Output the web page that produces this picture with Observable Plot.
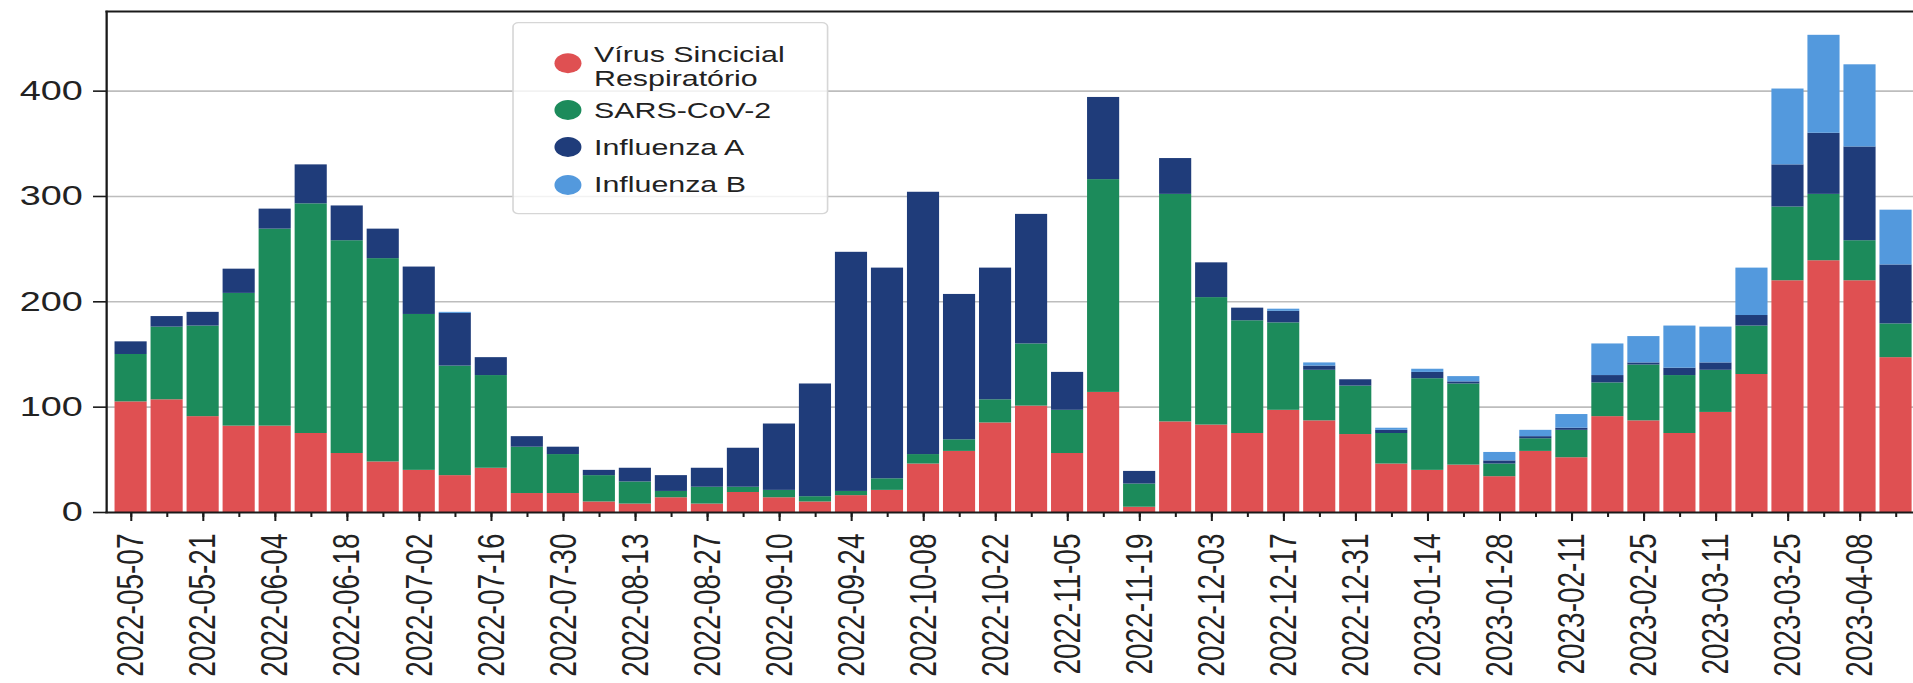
<!DOCTYPE html>
<html>
<head>
<meta charset="utf-8">
<script src="https://cdn.jsdelivr.net/npm/d3@7"></script>
<script src="https://cdn.jsdelivr.net/npm/@observablehq/plot@0.6"></script>
<style>
  html, body { margin: 0; padding: 0; background: #fff; overflow: hidden; }
  #wrap { position: absolute; left: 0; top: 0; width: 1417px; height: 683px; transform-origin: 0 0; }
  #wrap svg { position: absolute; left: 0; top: 0; }
</style>
</head>
<body>
<div id="wrap"></div>
<script>
const weeks = [
  "2022-05-07","2022-05-14","2022-05-21","2022-05-28","2022-06-04","2022-06-11","2022-06-18","2022-06-25",
  "2022-07-02","2022-07-09","2022-07-16","2022-07-23","2022-07-30","2022-08-06","2022-08-13","2022-08-20",
  "2022-08-27","2022-09-03","2022-09-10","2022-09-17","2022-09-24","2022-10-01","2022-10-08","2022-10-15",
  "2022-10-22","2022-10-29","2022-11-05","2022-11-12","2022-11-19","2022-11-26","2022-12-03","2022-12-10",
  "2022-12-17","2022-12-24","2022-12-31","2023-01-07","2023-01-14","2023-01-21","2023-01-28","2023-02-04",
  "2023-02-11","2023-02-18","2023-02-25","2023-03-04","2023-03-11","2023-03-18","2023-03-25","2023-04-01",
  "2023-04-08","2023-04-15"
];
const tickLabels = [
  "2022-05-07","2022-05-21","2022-06-04","2022-06-18","2022-07-02","2022-07-16","2022-07-30","2022-08-13",
  "2022-08-27","2022-09-10","2022-09-24","2022-10-08","2022-10-22","2022-11-05","2022-11-19","2022-12-03",
  "2022-12-17","2022-12-31","2023-01-14","2023-01-28","2023-02-11","2023-02-25","2023-03-11","2023-03-25",
  "2023-04-08"
];
const seriesNames = ["Vírus Sincicial Respiratório", "SARS-CoV-2", "Influenza A", "Influenza B"];
const seriesColors = ["#df5052", "#1c8b5b", "#1f3c7a", "#5399dd"];
const rsv = [105,107,91,82,82,75,56,48,40,35,42,18,18,10,8,14,8,19,14,10,16,21,46,58,85,101,56,114,5,86,83,75,97,87,74,46,40,45,34,58,52,91,87,75,95,131,220,239,220,147];
const sars = [45,69,86,126,187,218,202,193,148,104,88,44,37,25,21,6,16,5,7,5,4,11,9,11,22,59,41,202,22,216,121,107,83,48,46,29,87,77,12,12,26,32,53,55,40,46,70,63,38,32];
const fluA = [12,10,13,23,19,37,33,28,45,50,17,10,7,5,13,15,18,37,63,107,227,200,249,138,125,123,36,78,12,34,33,12,11,4,6,3,6,2,3,2,2,7,2,7,7,10,40,58,89,56];
const fluB = [0,0,0,0,0,0,0,0,0,1,0,0,0,0,0,0,0,0,0,0,0,0,0,0,0,0,0,0,0,0,0,0,2,3,0,2,3,5,8,6,13,30,25,40,34,45,72,93,78,52];
const yTicks = [0, 100, 200, 300, 400];
const yMax = 475.6;

const seriesValues = [rsv, sars, fluA, fluB];
const rows = [];
seriesNames.forEach((s, k) => {
  weeks.forEach((w, i) => rows.push({week: w, series: s, value: seriesValues[k][i]}));
});

const W = 1417, H = 683;
const fontFamily = "'Liberation Sans', Arial, Helvetica, sans-serif";

const chart = Plot.plot({
  width: W,
  height: H,
  marginLeft: 78.5,
  marginRight: 0,
  marginTop: 11,
  marginBottom: 171,
  style: {fontFamily, fontSize: "28px", color: "#222", background: "transparent", overflow: "hidden"},
  x: {type: "band", domain: weeks, range: [78.5, 1422.3], paddingInner: 0.108, paddingOuter: 0.2376, round: false, label: null},
  y: {domain: [0, yMax], label: null},
  color: {domain: seriesNames, range: seriesColors},
  marks: [
    Plot.gridY(yTicks.slice(1), {stroke: "#bdbdbd", strokeOpacity: 1, strokeWidth: 1.6}),
    Plot.barY(rows, {x: "week", y: "value", fill: "series"}),
    Plot.frame({anchor: "left", stroke: "#1a1a1a", strokeWidth: 1.7}),
    Plot.frame({anchor: "top", stroke: "#1a1a1a", strokeWidth: 1.8}),
    Plot.frame({anchor: "bottom", stroke: "#1a1a1a", strokeWidth: 1.8}),
    Plot.axisY({ticks: yTicks, tickSize: 9.6, tickPadding: 8, fontSize: 28, strokeWidth: 1.6, stroke: "#1a1a1a", label: null}),
    Plot.axisX({ticks: tickLabels, tickSize: 9, tickPadding: 12, tickRotate: -90, fontSize: 28, strokeWidth: 1.5, stroke: "#1a1a1a", label: null}),
    Plot.axisX({ticks: weeks, tickSize: 5, text: null, strokeWidth: 1.5, stroke: "#1a1a1a", label: null})
  ]
});

const wrap = document.getElementById("wrap");
wrap.appendChild(chart);

// Legend overlay (in the same coordinate space as the chart)
const ns = "http://www.w3.org/2000/svg";
const leg = document.createElementNS(ns, "svg");
leg.setAttribute("width", W);
leg.setAttribute("height", H);
leg.setAttribute("viewBox", `0 0 ${W} ${H}`);
leg.style.fontFamily = fontFamily;
const box = document.createElementNS(ns, "rect");
box.setAttribute("x", 380); box.setAttribute("y", 22.7);
box.setAttribute("width", 233); box.setAttribute("height", 191);
box.setAttribute("rx", 4);
box.setAttribute("fill", "#fff"); box.setAttribute("fill-opacity", 0.8);
box.setAttribute("stroke", "#d6d6d6"); box.setAttribute("stroke-width", 1.2);
leg.appendChild(box);
const entries = [
  {lines: ["Vírus Sincicial", "Respiratório"], cy: 63.3, base: [62, 86]},
  {lines: ["SARS-CoV-2"], cy: 110, base: [118.5]},
  {lines: ["Influenza A"], cy: 147, base: [155.5]},
  {lines: ["Influenza B"], cy: 185, base: [192.5]}
];
entries.forEach((e, k) => {
  const c = document.createElementNS(ns, "circle");
  c.setAttribute("cx", 420.7); c.setAttribute("cy", e.cy); c.setAttribute("r", 10);
  c.setAttribute("fill", seriesColors[k]);
  leg.appendChild(c);
  e.lines.forEach((t, j) => {
    const tx = document.createElementNS(ns, "text");
    tx.setAttribute("x", 440); tx.setAttribute("y", e.base[j]);
    tx.setAttribute("font-size", 22.5); tx.setAttribute("fill", "#222");
    tx.textContent = t;
    leg.appendChild(tx);
  });
});
wrap.appendChild(leg);
wrap.style.transform = `scaleX(${1913 / W})`;
</script>
</body>
</html>
